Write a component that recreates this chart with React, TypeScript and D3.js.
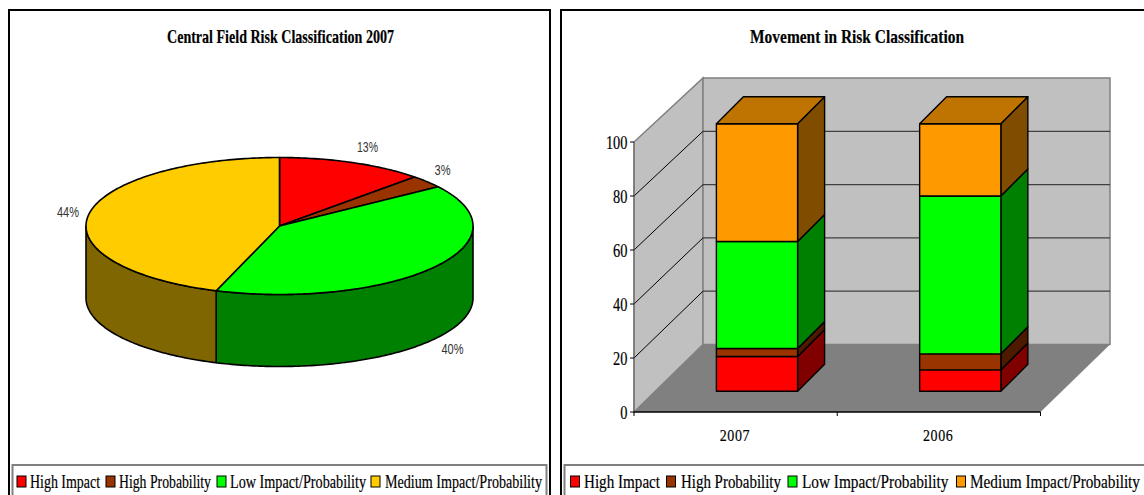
import React from "react";
import * as d3 from "d3";

// Series shared by both panels
const categories = ["High Impact", "High Probability", "Low Impact/Probability", "Medium Impact/Probability"];
const pieValues = [13, 3, 40, 44];
const pieLabels = ["13%", "3%", "40%", "44%"];
const years = ["2007", "2006"];
const values2007 = [13, 3, 40, 44];
const values2006 = [8, 6, 59, 27];
const yTicks = [0, 20, 40, 60, 80, 100];

// Colours
const pieTop = ["#FF0000", "#993300", "#00FF00", "#FFCC00"];
const pieSide = ["#800000", "#4D1A00", "#008000", "#806600"];
const barFront = ["#FF0000", "#993300", "#00FF00", "#FF9900"];
const barSide = ["#800000", "#4D1A00", "#008000", "#804D00"];
const barTop = "#BF7300";

const SERIF = "'Liberation Serif', serif";
const SANS = "'Liberation Sans', sans-serif";

// Pie geometry
const PIE = { cx: 279.5, cy: 226, rx: 193.5, ry: 68.5, depth: 72 };
const LABEL_SPOTS = [
  { x: 367.5, y: 152, w: 21 },
  { x: 442.5, y: 175, w: 16 },
  { x: 452.5, y: 354, w: 22 },
  { x: 68, y: 217, w: 22 },
];

// Tilted discs foreshorten their angles a little away from the top of the disc
const deg = Math.PI / 180;
const tilt = d3
  .scaleLinear()
  .domain([0, 40 * deg, 320 * deg, 360 * deg])
  .range([0, 37.5 * deg, 317.5 * deg, 360 * deg]);

const pt = (a: number, dy = 0): [number, number] => [
  PIE.cx + PIE.rx * Math.sin(a),
  PIE.cy - PIE.ry * Math.cos(a) + dy,
];
const arcPoints = (a0: number, a1: number, dy = 0) => {
  const n = Math.max(2, Math.ceil(Math.abs(a1 - a0) * 60));
  return d3.range(n + 1).map((i) => pt(a0 + ((a1 - a0) * i) / n, dy));
};
const line = d3.line();
const poly = (p: [number, number][]) => line(p) + "Z";

// Tall narrow text: a small font stretched vertically about its baseline
function TallText({ x, y, width, size = 15, stretch = 1.2, anchor = "start", weight = "normal", adjust = "spacingAndGlyphs", children }: any) {
  return (
    <text
      transform={`translate(${x},${y}) scale(1,${stretch})`}
      textAnchor={anchor}
      fontFamily={SERIF}
      fontWeight={weight}
      fontSize={size}
      fill="#000"
      stroke="#000"
      strokeWidth={0.15}
      textLength={width}
      lengthAdjust={adjust}
    >
      {children}
    </text>
  );
}

function Legend({ x, w, items, colours }: any) {
  return (
    <g>
      <rect x={x} y={465} width={w} height={60} fill="#fff" stroke="#808080" strokeWidth={2} />
      {items.map((it: any, i: number) => (
        <g key={i}>
          <rect x={it.sx} y={476} width={9} height={11} fill={colours[i]} stroke="#000" strokeWidth={1} />
          <TallText x={it.tx} y={488} width={it.tw}>
            {categories[i]}
          </TallText>
        </g>
      ))}
    </g>
  );
}

const leftLegend = [
  { sx: 17, tx: 30, tw: 70 },
  { sx: 106, tx: 119, tw: 92 },
  { sx: 217, tx: 230, tw: 136 },
  { sx: 371, tx: 385, tw: 157 },
];
const rightLegend = [
  { sx: 570.5, tx: 584, tw: 76 },
  { sx: 666.5, tx: 681, tw: 100 },
  { sx: 788, tx: 802, tw: 146.5 },
  { sx: 956.5, tx: 970, tw: 170 },
];

function PiePanel() {
  const arcs = d3.pie<number>().sort(null)(pieValues).map((d) => ({
    ...d,
    startAngle: tilt(d.startAngle),
    endAngle: tilt(d.endAngle),
  }));
  return (
    <g>
      <rect x={9} y={10} width={541} height={520} fill="#fff" stroke="#000" strokeWidth={2} />
      <TallText x={280.5} y={43} width={227} size={16} stretch={1.2} anchor="middle" weight="bold">
        Central Field Risk Classification 2007
      </TallText>
      {/* Rim: only the part of each slice on the near half of the disc shows */}
      {arcs.map((d, i) => {
        const a0 = Math.max(d.startAngle, Math.PI / 2);
        const a1 = Math.min(d.endAngle, (3 * Math.PI) / 2);
        if (a1 <= a0) return null;
        return (
          <path
            key={i}
            d={poly([...arcPoints(a0, a1), ...arcPoints(a1, a0, PIE.depth)])}
            fill={pieSide[i]}
            stroke="#000"
            strokeWidth={1.6}
            strokeLinejoin="round"
          />
        );
      })}
      {arcs.map((d, i) => (
        <path
          key={i}
          d={poly([[PIE.cx, PIE.cy], ...arcPoints(d.startAngle, d.endAngle)])}
          fill={pieTop[i]}
          stroke="#000"
          strokeWidth={1.6}
          strokeLinejoin="round"
        />
      ))}
      {pieLabels.map((t, i) => (
        <text
          key={t}
          x={LABEL_SPOTS[i].x}
          y={LABEL_SPOTS[i].y}
          textAnchor="middle"
          fontFamily={SANS}
          fontSize={14}
          fill="#333"
          textLength={LABEL_SPOTS[i].w}
          lengthAdjust="spacingAndGlyphs"
        >
          {t}
        </text>
      ))}
      <Legend x={12.5} w={534} items={leftLegend} colours={pieTop} />
    </g>
  );
}

function BarPanel() {
  const yFront = d3.scaleLinear().domain([0, 100]).range([412, 142]);
  const yBack = d3.scaleLinear().domain([0, 100]).range([344.5, 78]);
  const yBar = d3.scaleLinear().domain([0, 100]).range([391.3, 123.7]);
  const xFront = d3.scaleBand().domain(years).range([634, 1040.5]);
  const barW = 81.2;
  const barD = 27;
  const backX = 703;
  const wallR = 1110;
  const series = [values2007, values2006];
  const layers = d3
    .stack<number[]>()
    .keys(d3.range(4) as any)
    .value((row: number[], k: any) => row[k])(series);

  return (
    <g>
      <rect x={561} y={10} width={620} height={520} fill="#fff" stroke="#000" strokeWidth={2} />
      <TallText x={857} y={43} width={214} size={16} stretch={1.2} anchor="middle" weight="bold">
        Movement in Risk Classification
      </TallText>

      {/* Side wall, back wall and floor of the plot box */}
      <path
        d={poly([[634, yFront(100)], [backX, yBack(100)], [backX, yBack(0)], [634, yFront(0)]])}
        fill="#C0C0C0"
        stroke="#808080"
        strokeWidth={1.5}
      />
      <rect
        x={backX}
        y={yBack(100)}
        width={wallR - backX}
        height={yBack(0) - yBack(100)}
        fill="#C0C0C0"
        stroke="#808080"
        strokeWidth={1.5}
      />
      <path
        d={poly([[634, yFront(0)], [backX, yBack(0)], [wallR, yBack(0)], [1040.5, yFront(0)]])}
        fill="#808080"
      />
      {yTicks.slice(1, -1).map((t) => (
        <g key={`grid-${t}`}>
          <line x1={backX} x2={wallR} y1={yBack(t)} y2={yBack(t)} stroke="#404040" strokeWidth={1.2} />
          <line x1={634} x2={backX} y1={yFront(t)} y2={yBack(t)} stroke="#000" strokeWidth={1} />
        </g>
      ))}

      {/* Stacked columns */}
      {years.map((yr, c) => {
        const x0 = (xFront(yr) as number) + 82.4;
        const x1 = x0 + barW;
        return (
          <g key={yr}>
            {layers.map((layer, k) => {
              const b = yBar(layer[c][0]);
              const t = yBar(layer[c][1]);
              return (
                <g key={k} stroke="#000" strokeWidth={1.4} strokeLinejoin="round">
                  <path
                    d={poly([[x1, b], [x1 + barD, b - barD], [x1 + barD, t - barD], [x1, t]])}
                    fill={barSide[k]}
                  />
                  <rect x={x0} y={t} width={barW} height={b - t} fill={barFront[k]} />
                  {k === layers.length - 1 && (
                    <path
                      d={poly([[x0, t], [x0 + barD, t - barD], [x1 + barD, t - barD], [x1, t]])}
                      fill={barTop}
                    />
                  )}
                </g>
              );
            })}
          </g>
        );
      })}

      {/* Axes */}
      <line x1={634} x2={634} y1={yFront(100)} y2={yFront(0)} stroke="#666" strokeWidth={1} />
      <line x1={634} x2={1040.5} y1={yFront(0)} y2={yFront(0)} stroke="#000" strokeWidth={1.5} />
      {yTicks.map((t) => (
        <g key={t}>
          <line x1={630} x2={634} y1={yFront(t)} y2={yFront(t)} stroke="#000" strokeWidth={1} />
          <TallText x={627.5} y={yFront(t) + 7} width={String(t).length * 7.2} size={15} stretch={1.25} anchor="end">
            {t}
          </TallText>
        </g>
      ))}
      {[634, 837.25, 1040.5].map((x) => (
        <line key={x} x1={x} x2={x} y1={412} y2={416} stroke="#000" strokeWidth={1} />
      ))}
      {years.map((yr) => (
        <TallText
          key={yr}
          x={(xFront(yr) as number) + xFront.bandwidth() / 2 - 1}
          y={440.5}
          width={30}
          size={14}
          stretch={1.25}
          anchor="middle"
          adjust="spacing"
        >
          {yr}
        </TallText>
      ))}
      <Legend x={564.5} w={620} items={rightLegend} colours={barFront} />
    </g>
  );
}

export default function App() {
  return (
    <svg
      width={1144}
      height={495}
      viewBox="0 0 1144 495"
      style={{ position: "absolute", left: 0, top: 0, background: "#fff" }}
    >
      <PiePanel />
      <BarPanel />
    </svg>
  );
}
